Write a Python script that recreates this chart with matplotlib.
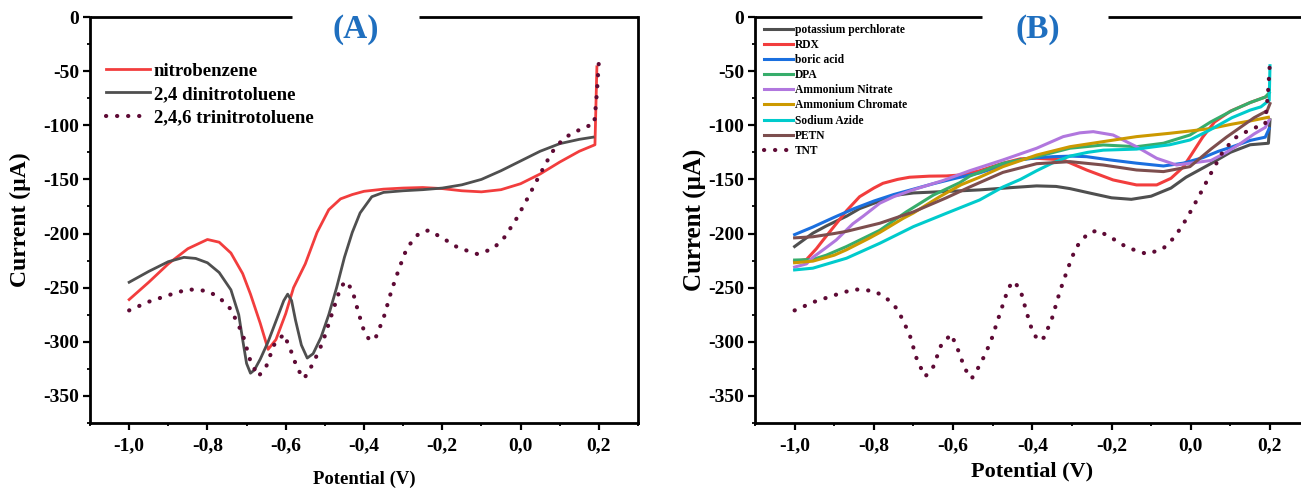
import matplotlib
matplotlib.use("Agg")
import matplotlib.pyplot as plt
from matplotlib.ticker import MultipleLocator

# ---- tick values / labels ----
xticks = [-1.0, -0.8, -0.6, -0.4, -0.2, 0.0, 0.2]
xtick_labels = ['-1,0', '-0,8', '-0,6', '-0,4', '-0,2', '0,0', '0,2']
yticks = [0, -50, -100, -150, -200, -250, -300, -350]
ytick_labels = ['0', '-50', '-100', '-150', '-200', '-250', '-300', '-350']

# ---- panel A ----
nb_x = [-1.0, -0.95, -0.9, -0.85, -0.8, -0.77, -0.74, -0.71, -0.69, -0.665, -0.645,
        -0.625, -0.6, -0.58, -0.55, -0.52, -0.49, -0.46, -0.43, -0.4, -0.35, -0.3,
        -0.25, -0.2, -0.15, -0.1, -0.05, 0.0, 0.05, 0.1, 0.15, 0.19, 0.195]
nb_y = [-261, -245, -228, -214, -205.5, -208, -218, -237, -256, -283, -307,
        -298, -274, -250, -228, -199, -178, -168, -164, -161, -159, -158,
        -157.5, -158.5, -160.5, -161.5, -159.5, -154, -145, -134, -124, -118, -46]

dnt_x = [-1.0, -0.95, -0.9, -0.86, -0.83, -0.8, -0.77, -0.74, -0.72, -0.71, -0.70,
         -0.69, -0.68, -0.665, -0.645, -0.625, -0.605, -0.595, -0.585, -0.575, -0.56,
         -0.545, -0.53, -0.51, -0.49, -0.47, -0.45, -0.43, -0.41, -0.38, -0.35, -0.3,
         -0.25, -0.2, -0.15, -0.1, -0.05, 0.0, 0.05, 0.1, 0.15, 0.185]
dnt_y = [-245, -235, -226, -222, -223, -227, -236, -252, -275, -298, -320,
         -329, -326, -316, -300, -281, -262, -256, -262, -280, -303,
         -315, -311, -296, -275, -250, -222, -199, -181, -166, -162, -160.5,
         -159.5, -158, -155, -150, -142, -133, -124, -117, -113, -111]

tnt_x = [-1.0, -0.95, -0.9, -0.85, -0.8, -0.77, -0.74, -0.71, -0.69, -0.67, -0.65,
         -0.63, -0.605, -0.59, -0.57, -0.553, -0.53, -0.505, -0.48, -0.46, -0.447,
         -0.43, -0.415, -0.4, -0.385, -0.37, -0.35, -0.33, -0.31, -0.29, -0.26,
         -0.235, -0.2, -0.16, -0.11, -0.07, -0.04, -0.01, 0.02, 0.05, 0.08, 0.11,
         0.14, 0.17, 0.188, 0.195, 0.2]
tnt_y = [-271, -263, -257, -251.5, -253, -259, -270, -293, -318, -332, -323,
         -303, -293, -305, -325, -334, -320, -300, -272, -250, -244,
         -252, -272, -290, -299, -296, -278, -253, -232, -213, -200,
         -197, -204, -213, -219, -214, -203, -186, -166, -145, -125, -112,
         -106, -101, -99, -70, -41]

# ---- panel B ----
kp_x = [-1.0, -0.954, -0.92, -0.869, -0.836, -0.785, -0.752, -0.70, -0.625, -0.533,
        -0.45, -0.389, -0.34, -0.305, -0.25, -0.2, -0.15, -0.1, -0.05, -0.012, 0.05,
        0.1, 0.15, 0.196, 0.2]
kp_y = [-212, -199.7, -193, -184, -177, -170, -165, -162.5, -161.3, -159.7,
        -157.5, -156, -156.5, -158.5, -163, -167, -168.4, -165.5, -158, -148, -135.6,
        -125, -118, -116.6, -95]

rdx_x = [-1.0, -0.97, -0.945, -0.928, -0.895, -0.869, -0.836, -0.8, -0.777, -0.74,
         -0.71, -0.66, -0.617, -0.583, -0.533, -0.474, -0.43, -0.389, -0.322, -0.263,
         -0.196, -0.137, -0.086, -0.05, -0.02, 0.0, 0.03, 0.06, 0.1, 0.15, 0.195]
rdx_y = [-226, -224, -214, -206, -191, -179, -166, -158, -153.6, -150,
         -148, -147, -146.8, -146, -142, -135, -131, -130.5, -132, -141.3,
         -150.5, -155.1, -155.1, -149, -139, -128, -111, -97, -87, -79, -73]

boric_x = [-1.0, -0.954, -0.9, -0.85, -0.8, -0.75, -0.7, -0.65, -0.6, -0.533, -0.474,
           -0.432, -0.389, -0.347, -0.3, -0.263, -0.204, -0.137, -0.069, -0.019, 0.03,
           0.07, 0.104, 0.15, 0.188, 0.198]
boric_y = [-201, -194, -185, -177, -170, -164, -159, -154, -149.5, -144, -137,
           -132, -130, -129, -128.5, -129, -132, -135, -137.6, -135, -130,
           -124, -120, -114, -111, -103]

dpa_x = [-1.0, -0.954, -0.92, -0.869, -0.785, -0.718, -0.65, -0.583, -0.558, -0.474,
         -0.389, -0.305, -0.221, -0.137, -0.069, -0.002, 0.05, 0.104, 0.15, 0.188, 0.198]
dpa_y = [-224.5, -224, -220, -212, -197, -180, -164.5, -153, -147, -135.1,
         -129, -121.2, -118.2, -119.8, -116.6, -109, -97, -86.5, -79, -74, -70]

an_x = [-1.0, -0.97, -0.954, -0.924, -0.895, -0.853, -0.827, -0.785, -0.75, -0.70,
        -0.625, -0.558, -0.474, -0.389, -0.322, -0.28, -0.246, -0.196, -0.137, -0.086,
        -0.036, -0.002, 0.051, 0.09, 0.125, 0.16, 0.188, 0.198]
an_y = [-231, -228, -222, -214, -206, -191, -184, -172, -166, -159.5,
        -151, -142, -132, -121.2, -110.5, -107, -105.9, -109, -119.8, -130.5,
        -136.7, -135.1, -132.5, -125, -117, -108, -102, -95]

ac_x = [-1.0, -0.954, -0.9, -0.869, -0.81, -0.785, -0.726, -0.70, -0.634, -0.58,
        -0.533, -0.474, -0.389, -0.305, -0.221, -0.137, -0.053, -0.002, 0.05, 0.104,
        0.15, 0.196]
ac_y = [-227, -225.5, -220, -215, -204, -199, -186, -181, -166, -155,
        -148, -138.2, -127.5, -119.8, -115.1, -110.5, -107.4, -105.3, -103, -99,
        -96, -92.6]

sa_x = [-1.0, -0.954, -0.869, -0.785, -0.70, -0.617, -0.533, -0.474, -0.43, -0.389,
        -0.35, -0.305, -0.26, -0.221, -0.137, -0.053, -0.002, 0.05, 0.104, 0.15,
        0.177, 0.198, 0.2]
sa_y = [-233.6, -232, -222.8, -209, -193.6, -181.3, -169, -157, -150, -142,
        -135, -128.5, -125, -123, -122, -118, -113.6, -104, -93, -86,
        -83, -77, -45]

petn_x = [-1.0, -0.954, -0.9, -0.869, -0.785, -0.70, -0.617, -0.558, -0.474, -0.389,
          -0.305, -0.221, -0.137, -0.069, -0.002, 0.051, 0.09, 0.125, 0.16, 0.193, 0.2]
petn_y = [-204, -203, -200, -198, -190.5, -180, -167, -157, -143.5, -135.5,
          -133.6, -136.7, -141.3, -142.8, -138.2, -122, -111, -102, -93, -86.5, -80]

plt.rcParams['font.family'] = ['Liberation Serif', 'DejaVu Serif']
plt.rcParams['font.weight'] = 'bold'
plt.rcParams['axes.labelweight'] = 'bold'

W, H = 1301, 488
fig = plt.figure(figsize=(W / 100, H / 100), dpi=100)
axA = fig.add_axes([90 / W, 1 - 423 / H, 548 / W, 406 / H])
axB = fig.add_axes([755 / W, 1 - 423 / H, 554.6 / W, 406 / H])

tnt_col = '#5E0A35'


def style_axes(ax, gap, title, title_x, xlab_size, ylab_size, ylab_x, xlab_y):
    ax.set_xlim(-1.1, 0.3)
    ax.set_ylim(-375, 0)
    ax.set_xticks(xticks)
    ax.set_xticklabels(xtick_labels)
    ax.set_yticks(yticks)
    ax.set_yticklabels(ytick_labels)
    ax.xaxis.set_minor_locator(MultipleLocator(0.1))
    ax.yaxis.set_minor_locator(MultipleLocator(25))
    ax.tick_params(which='major', direction='out', length=5, width=1.6, labelsize=14)
    ax.tick_params(which='minor', direction='out', length=2.5, width=1.3)
    ax.tick_params(axis='y', which='both', pad=3)
    ax.tick_params(axis='x', which='both', pad=5)
    for s in ax.spines.values():
        s.set_linewidth(2)
    # top border with a gap for the panel letter
    ax.spines['top'].set_visible(False)
    ax.plot([0, gap[0]], [1, 1], transform=ax.transAxes, color='black', lw=2,
            clip_on=False, solid_capstyle='butt')
    ax.plot([gap[1], 1], [1, 1], transform=ax.transAxes, color='black', lw=2,
            clip_on=False, solid_capstyle='butt')
    ax.text(title_x, 0.968, title, transform=ax.transAxes, ha='center', va='center',
            fontsize=24, fontweight='bold', color='#1F6FBF')
    ax.set_xlabel('Potential (V)', fontsize=xlab_size, fontweight='bold')
    ax.set_ylabel('Current (µA)', fontsize=ylab_size, fontweight='bold')
    ax.yaxis.set_label_coords(ylab_x, 0.5)
    ax.xaxis.set_label_coords(0.5, xlab_y)


# panel A
axA.plot(nb_x, nb_y, color='#F23D3D', lw=2, label='nitrobenzene')
axA.plot(dnt_x, dnt_y, color='#4F4F4F', lw=2, label='2,4 dinitrotoluene')
axA.plot(tnt_x, tnt_y, color=tnt_col, lw=3, linestyle=(0, (0.05, 2.6)),
         dash_capstyle='round', label='2,4,6 trinitrotoluene')
style_axes(axA, (0.368, 0.6), '(A)', 0.485, 13.5, 17, -0.108, -0.118)
axA.legend(loc='upper left', bbox_to_anchor=(0.029, 0.888), frameon=False,
           fontsize=13.5, handlelength=2.35, handletextpad=0.2, labelspacing=0.33,
           borderpad=0, borderaxespad=0)

# panel B
series_b = [
    (kp_x, kp_y, '#4F4F4F', 'potassium perchlorate'),
    (rdx_x, rdx_y, '#F23D3D', 'RDX'),
    (boric_x, boric_y, '#1A6FDF', 'boric acid'),
    (dpa_x, dpa_y, '#37AD6B', 'DPA'),
    (an_x, an_y, '#B177DE', 'Ammonium Nitrate'),
    (ac_x, ac_y, '#CC9900', 'Ammonium Chromate'),
    (sa_x, sa_y, '#00CBCC', 'Sodium Azide'),
    (petn_x, petn_y, '#7D4E4E', 'PETN'),
]
for xs, ys, col, lab in series_b:
    axB.plot(xs, ys, color=col, lw=2.2, label=lab)
axB.plot(tnt_x, tnt_y, color=tnt_col, lw=3, linestyle=(0, (0.05, 2.6)),
         dash_capstyle='round', label='TNT')
style_axes(axB, (0.41, 0.637), '(B)', 0.51, 16, 18, -0.087, -0.095)
axB.legend(loc='upper left', bbox_to_anchor=(0.016, 0.983), frameon=False,
           fontsize=8.3, handlelength=2.5, handletextpad=0.2, labelspacing=0.27,
           borderpad=0, borderaxespad=0)

fig.savefig('out.png', dpi=100)
